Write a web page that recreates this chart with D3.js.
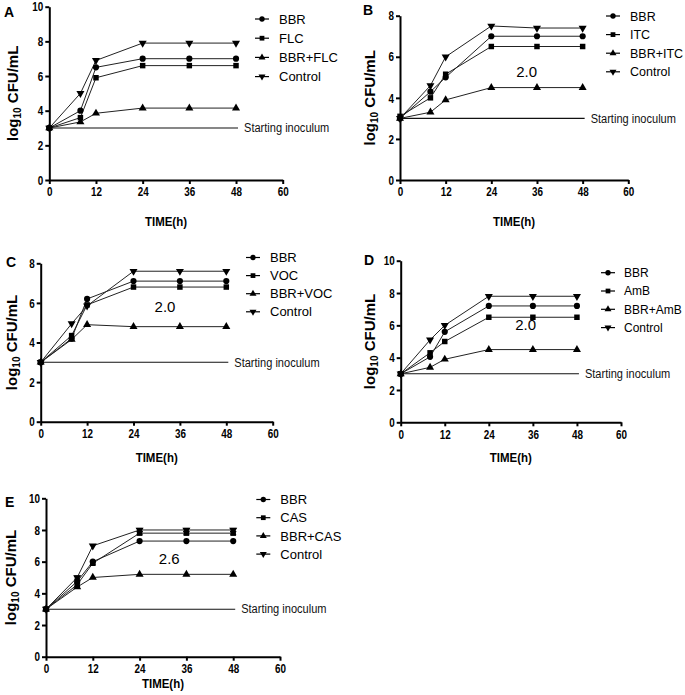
<!DOCTYPE html>
<html><head><meta charset="utf-8">
<script src="https://cdn.jsdelivr.net/npm/d3@7"></script>
<style>
html,body{margin:0;padding:0;background:#fff;}
svg{display:block;}
</style></head>
<body>
<svg id="c" width="685" height="695"></svg>
<script>
// ---------- data ----------
const times = [0, 8, 12, 24, 36, 48];
const xTicks = [0, 12, 24, 36, 48, 60];
const yTicks10 = [0, 2, 4, 6, 8, 10];
const yTicks8 = [0, 2, 4, 6, 8];
const panelLabels = ["A", "B", "C", "D", "E"];
const startingInoculum = 3;
const synergyLabels = ["", "2.0", "2.0", "2.0", "2.6"];

const namesA = ["BBR", "FLC", "BBR+FLC", "Control"];
const bbrA = [3.0, 4.0, 6.5, 7.0, 7.0, 7.0];
const flcA = [3.0, 3.6, 5.9, 6.6, 6.6, 6.6];
const comboA = [3.0, 3.35, 3.85, 4.15, 4.15, 4.15];
const controlA = [3.0, 5.0, 6.9, 7.9, 7.9, 7.9];

const namesB = ["BBR", "ITC", "BBR+ITC", "Control"];
const bbrB = [3.0, 4.3, 5.0, 7.0, 7.0, 7.0];
const itcB = [3.1, 4.0, 5.15, 6.5, 6.5, 6.5];
const comboB = [3.0, 3.3, 3.9, 4.5, 4.5, 4.5];
const controlB = [3.0, 4.6, 6.0, 7.5, 7.4, 7.4];

const namesC = ["BBR", "VOC", "BBR+VOC", "Control"];
const bbrC = [3.0, 4.2, 6.2, 7.1, 7.1, 7.1];
const vocC = [3.0, 4.35, 5.9, 6.8, 6.8, 6.8];
const comboC = [3.0, 4.15, 4.9, 4.8, 4.8, 4.8];
const controlC = [3.0, 4.95, 5.85, 7.6, 7.6, 7.6];

const namesD = ["BBR", "AmB", "BBR+AmB", "Control"];
const bbrD = [3.0, 4.05, 5.6, 7.2, 7.2, 7.2];
const ambD = [3.0, 4.3, 5.0, 6.5, 6.5, 6.5];
const comboD = [3.0, 3.4, 3.9, 4.5, 4.5, 4.5];
const controlD = [3.0, 5.1, 6.0, 7.8, 7.8, 7.8];

const namesE = ["BBR", "CAS", "BBR+CAS", "Control"];
const bbrE = [3.0, 4.75, 6.0, 7.3, 7.3, 7.3];
const casE = [3.0, 4.55, 5.9, 7.8, 7.8, 7.8];
const comboE = [3.0, 4.4, 5.0, 5.2, 5.2, 5.2];
const controlE = [3.0, 5.0, 7.0, 8.0, 8.0, 8.0];
const casErrE = [0, 0.1, 0.1, 0.1, 0.1, 0.1];
const controlErrE = [0, 0.1, 0, 0.1, 0.1, 0.1];

// ---------- layout ----------
const layout = [
  {x0:49.3, x1:282.7, yTop:6.7, yBot:180, ymax:10, ticks:yTicks10, legX:262, legY:19, legDy:19.2, legFont:13, legGap:17, labX:4, labY:17, ylabX:13, titleY:226, ann:null},
  {x0:400, x1:628.3, yTop:15.7, yBot:180, ymax:8, ticks:yTicks8, legX:613, legY:16, legDy:18.6, legFont:12.5, legGap:17, labX:363, labY:15, ylabX:370, titleY:226, ann:[526.7,72]},
  {x0:40.7, x1:272.7, yTop:263.3, yBot:421.7, ymax:8, ticks:yTicks8, legX:253, legY:257.5, legDy:18.1, legFont:13, legGap:17, labX:6, labY:267, ylabX:12, titleY:462, ann:[165,307]},
  {x0:400.7, x1:621, yTop:260.7, yBot:422.3, ymax:10, ticks:yTicks10, legX:608, legY:272.7, legDy:18.3, legFont:12, legGap:16, labX:364, labY:265, ylabX:370, titleY:462, ann:[525.7,325]},
  {x0:46, x1:280, yTop:498.3, yBot:656.7, ymax:10, ticks:yTicks10, legX:263.3, legY:499.5, legDy:18.2, legFont:13, legGap:17, labX:5, labY:507, ylabX:11, titleY:688, ann:[169.3,559]}
];
const panelSeries = [
  {names:namesA, vals:[bbrA, flcA, comboA, controlA], errs:[null,null,null,null]},
  {names:namesB, vals:[bbrB, itcB, comboB, controlB], errs:[null,null,null,null]},
  {names:namesC, vals:[bbrC, vocC, comboC, controlC], errs:[null,null,null,null]},
  {names:namesD, vals:[bbrD, ambD, comboD, controlD], errs:[null,null,null,null]},
  {names:namesE, vals:[bbrE, casE, comboE, controlE], errs:[null,casErrE,null,controlErrE]}
];
const symbols = [d3.symbolCircle, d3.symbolSquare, d3.symbolTriangle, d3.symbolTriangle];
const symSizes = [30, 30, 28, 28];
const symRot = [0, 0, 0, 180];

const svg = d3.select("#c");
const sans = "'Liberation Sans',Arial,Helvetica,sans-serif";

function condense(sel, f) {
  sel.each(function () {
    const w = this.getComputedTextLength();
    d3.select(this).attr("textLength", w * f).attr("lengthAdjust", "spacingAndGlyphs");
  });
}

layout.forEach((L, pi) => {
  const S = panelSeries[pi];
  const x = d3.scaleLinear().domain([0, 60]).range([L.x0, L.x1]);
  const y = d3.scaleLinear().domain([0, L.ymax]).range([L.yBot, L.yTop]);
  const g = svg.append("g");

  // axes
  const xa = g.append("g").attr("transform", `translate(0,${L.yBot})`)
    .call(d3.axisBottom(x).tickValues(xTicks).tickSize(4).tickPadding(3).tickSizeOuter(0));
  const ya = g.append("g").attr("transform", `translate(${L.x0},0)`)
    .call(d3.axisLeft(y).tickValues(L.ticks).tickSize(4).tickPadding(2).tickSizeOuter(0));
  [xa, ya].forEach(a => {
    a.select(".domain").attr("stroke", "#000").attr("stroke-width", 2);
    a.selectAll(".tick line").attr("stroke", "#000").attr("stroke-width", 2);
    a.selectAll(".tick text").attr("fill", "#000")
      .style("font-family", sans).style("font-weight", "bold").style("font-size", "13px");
    condense(a.selectAll(".tick text"), 0.76);
  });

  // starting inoculum
  g.append("line").attr("x1", x(0)).attr("x2", x(48) + 2)
    .attr("y1", y(startingInoculum)).attr("y2", y(startingInoculum))
    .attr("stroke", "#111").attr("stroke-width", 1.1);
  const si0 = g.append("text").attr("x", x(48) + 8).attr("y", y(startingInoculum)).attr("dy", "0.35em")
    .style("font-family", sans).style("font-size", "12px").attr("fill", "#111")
    .text("Starting inoculum");
  condense(si0, 0.92);

  // series
  const line = d3.line().x((d, i) => x(times[i])).y(d => y(d));
  S.vals.forEach((vals) => {
    g.append("path").attr("d", line(vals)).attr("fill", "none")
      .attr("stroke", "#222").attr("stroke-width", 1);
  });
  S.vals.forEach((vals, si) => {
    const err = S.errs[si];
    if (err) {
      vals.forEach((v, i) => {
        if (!err[i]) return;
        const cx = x(times[i]);
        g.append("line").attr("x1", cx).attr("x2", cx).attr("y1", y(v - err[i])).attr("y2", y(v + err[i])).attr("stroke", "#000").attr("stroke-width", 1);
        [v - err[i], v + err[i]].forEach(e => g.append("line").attr("x1", cx - 3).attr("x2", cx + 3).attr("y1", y(e)).attr("y2", y(e)).attr("stroke", "#000").attr("stroke-width", 1));
      });
    }
    g.selectAll(null).data(vals).enter().append("path")
      .attr("d", d3.symbol().type(symbols[si]).size(symSizes[si]))
      .attr("transform", (d, i) => `translate(${x(times[i])},${y(d)}) rotate(${symRot[si]})`)
      .attr("fill", "#000");
  });

  // legend
  S.names.forEach((n, si) => {
    const ly = L.legY + si * L.legDy;
    g.append("line").attr("x1", L.legX - 7).attr("x2", L.legX + 7).attr("y1", ly).attr("y2", ly)
      .attr("stroke", "#000").attr("stroke-width", 1.2);
    g.append("path").attr("d", d3.symbol().type(symbols[si]).size(symSizes[si] * 0.75))
      .attr("transform", `translate(${L.legX},${ly}) rotate(${symRot[si]})`).attr("fill", "#000");
    g.append("text").attr("x", L.legX + L.legGap).attr("y", ly).attr("dy", "0.36em")
      .style("font-family", sans).style("font-size", L.legFont + "px").attr("fill", "#000").text(n);
  });

  // synergy annotation
  if (synergyLabels[pi]) {
    g.append("text").attr("x", L.ann[0]).attr("y", L.ann[1]).attr("dy", "0.36em")
      .attr("text-anchor", "middle").style("font-family", sans).style("font-size", "15px")
      .text(synergyLabels[pi]);
  }

  // panel label
  g.append("text").attr("x", L.labX).attr("y", L.labY)
    .style("font-family", sans).style("font-weight", "bold").style("font-size", "14px")
    .text(panelLabels[pi]);

  // x title
  const xt = g.append("text").attr("x", (L.x0 + L.x1) / 2).attr("y", L.titleY)
    .attr("text-anchor", "middle").style("font-family", sans).style("font-weight", "bold")
    .style("font-size", "13.5px").text("TIME(h)");
  condense(xt, 0.85);

  // y title
  const yt = g.append("text")
    .attr("transform", `translate(${L.ylabX},${(L.yTop + L.yBot) / 2}) rotate(-90)`)
    .attr("text-anchor", "middle").attr("dy", "0.35em")
    .style("font-family", sans).style("font-weight", "bold").style("font-size", "15px");
  yt.append("tspan").text("log");
  yt.append("tspan").attr("dy", "0.3em").style("font-size", "10px").text("10");
  yt.append("tspan").attr("dy", "-0.2em").text(" CFU/mL");
});
</script>
</body></html>
